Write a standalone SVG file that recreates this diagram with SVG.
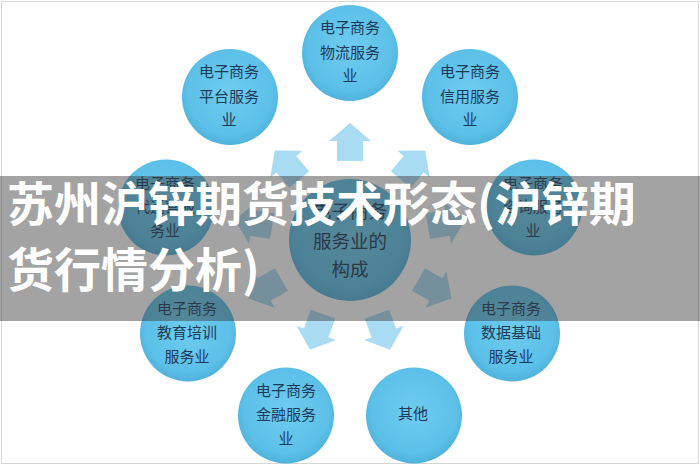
<svg xmlns="http://www.w3.org/2000/svg" width="700" height="466" viewBox="0 0 700 466">
<style>
.nt{font-family:"Noto Sans CJK SC","Noto Sans",sans-serif;font-size:15px;fill:#1e3a57;text-anchor:middle}
.ct{font-family:"Noto Sans CJK SC","Noto Sans",sans-serif;font-size:18.5px;fill:#1b3550;text-anchor:middle}
.bt{font-family:"Noto Sans CJK SC","Noto Sans",sans-serif;font-size:47px;font-weight:bold;fill:#ffffff}
.arr{fill:#a9dcf2}
</style>
<defs>
<radialGradient id="cg" cx="50%" cy="45%" r="55%">
<stop offset="0" stop-color="#6fccf0"/>
<stop offset="0.8" stop-color="#5cc0e8"/>
<stop offset="1" stop-color="#4eb2dc"/>
</radialGradient>
<path id="ar" d="M0,-19 L21,-1 L13,-1 L13,19 L-13,19 L-13,-1 L-21,-1 Z"/>
</defs>
<rect x="0" y="0" width="700" height="466" fill="#ffffff"/>
<rect x="1.5" y="1.5" width="697" height="462" fill="none" stroke="#d6d6d6" stroke-width="1"/>
<g id="connectors">
<use href="#ar" class="arr" transform="translate(350,142) rotate(0)"/>
<use href="#ar" class="arr" transform="translate(287,165) rotate(-40)"/>
<use href="#ar" class="arr" transform="translate(413,165) rotate(40)"/>
<use href="#ar" class="arr" transform="translate(253.5,223) rotate(-80)"/>
<use href="#ar" class="arr" transform="translate(446.5,223) rotate(80)"/>
<use href="#ar" class="arr" transform="translate(265,289) rotate(-120)"/>
<use href="#ar" class="arr" transform="translate(435,289) rotate(120)"/>
<use href="#ar" class="arr" transform="translate(316.5,332) rotate(200)"/>
<use href="#ar" class="arr" transform="translate(383.5,332) rotate(160)"/>
</g>
<g id="center">
<circle cx="350" cy="240" r="61" fill="url(#cg)"/>
<text class="ct" x="350" y="218">电子商务</text>
<text class="ct" x="350" y="248">服务业的</text>
<text class="ct" x="350" y="276">构成</text>
</g>
<g id="logistics">
<circle cx="350" cy="53" r="48" fill="url(#cg)"/>
<text class="nt" x="350" y="32.5">电子商务</text>
<text class="nt" x="350" y="57.5">物流服务</text>
<text class="nt" x="350" y="80.5">业</text>
</g>
<g id="platform">
<circle cx="230" cy="97" r="48" fill="url(#cg)"/>
<text class="nt" x="229" y="77">电子商务</text>
<text class="nt" x="229" y="102">平台服务</text>
<text class="nt" x="229" y="125">业</text>
</g>
<g id="credit">
<circle cx="470" cy="97" r="48" fill="url(#cg)"/>
<text class="nt" x="470" y="77">电子商务</text>
<text class="nt" x="470" y="102">信用服务</text>
<text class="nt" x="470" y="125">业</text>
</g>
<g id="agency">
<circle cx="166" cy="207.5" r="48" fill="url(#cg)"/>
<text class="nt" x="165" y="188.5">电子商务</text>
<text class="nt" x="165" y="211.5">代运营服</text>
<text class="nt" x="165" y="235.5">务业</text>
</g>
<g id="consulting">
<circle cx="534" cy="207.5" r="48" fill="url(#cg)"/>
<text class="nt" x="533" y="188.5">电子商务</text>
<text class="nt" x="533" y="211.5">咨询服务</text>
<text class="nt" x="533" y="235.5">业</text>
</g>
<g id="education">
<circle cx="188" cy="333.5" r="48" fill="url(#cg)"/>
<text class="nt" x="187" y="313.5">电子商务</text>
<text class="nt" x="187" y="337.5">教育培训</text>
<text class="nt" x="187" y="361.5">服务业</text>
</g>
<g id="data">
<circle cx="512" cy="333.5" r="48" fill="url(#cg)"/>
<text class="nt" x="511" y="313.5">电子商务</text>
<text class="nt" x="511" y="337.5">数据基础</text>
<text class="nt" x="511" y="361.5">服务业</text>
</g>
<g id="finance">
<circle cx="286" cy="415.5" r="48" fill="url(#cg)"/>
<text class="nt" x="286" y="395.5">电子商务</text>
<text class="nt" x="286" y="419.5">金融服务</text>
<text class="nt" x="286" y="443.5">业</text>
</g>
<g id="other">
<circle cx="414" cy="415.5" r="48" fill="url(#cg)"/>
<text class="nt" x="413" y="418.5">其他</text>
</g>
<g id="banner">
<rect x="0" y="176" width="700" height="145" fill="#3c3c3c" fill-opacity="0.47"/>
<text class="bt" x="7" y="221">苏州沪锌期货技术形态(沪锌期</text>
<text class="bt" x="7" y="287">货行情分析)</text>
</g>
</svg>
